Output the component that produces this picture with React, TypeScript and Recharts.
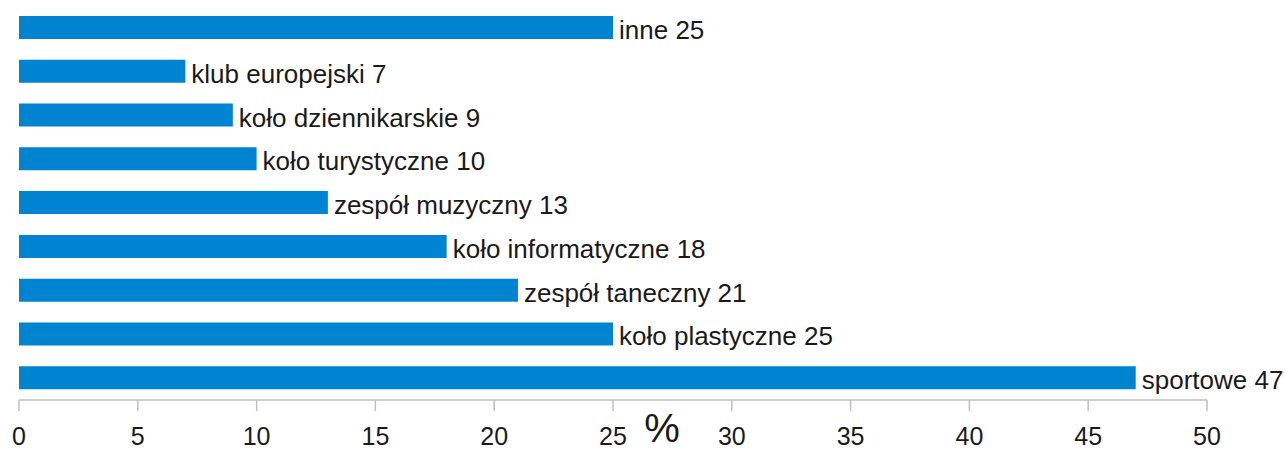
import React from 'react';
import { BarChart, Bar, XAxis, YAxis, LabelList, Label } from 'recharts';

const categories = [
  'inne',
  'klub europejski',
  'koło dziennikarskie',
  'koło turystyczne',
  'zespół muzyczny',
  'koło informatyczne',
  'zespół taneczny',
  'koło plastyczne',
  'sportowe',
];
const values = [25, 7, 9, 10, 13, 18, 21, 25, 47];
const xTicks = [0, 5, 10, 15, 20, 25, 30, 35, 40, 45, 50];

const data = categories.map((name, i) => ({ name, value: values[i] }));

const FONT = '"Liberation Sans", Arial, sans-serif';

const App: React.FC = () => {
  return (
    <div style={{ position: 'absolute', left: 0, top: 0, fontFamily: FONT }}>
      <BarChart
        width={1285}
        height={451}
        data={data}
        layout="vertical"
        margin={{ top: 6, right: 78, bottom: 0, left: 19 }}
        barSize={23}
      >
        <XAxis
          type="number"
          domain={[0, 50]}
          ticks={xTicks}
          interval={0}
          height={51}
          tickSize={11}
          tickMargin={16}
          axisLine={{ stroke: '#bfbfbf', strokeWidth: 1.5 }}
          tickLine={{ stroke: '#bfbfbf', strokeWidth: 1.5 }}
          tick={{ fill: '#1a1a1a', fontSize: 25, fontFamily: FONT }}
        >
          <Label
            value="%"
            position="insideBottom"
            offset={9}
            dx={49}
            fill="#1a1a1a"
            fontSize={40}
            fontFamily={FONT}
          />
        </XAxis>
        <YAxis type="category" dataKey="name" hide />
        <Bar dataKey="value" fill="#0084d1" isAnimationActive={false}>
          <LabelList
            dataKey="value"
            content={(props: any) => {
              const { x, y, width, height, index, value } = props;
              // baseline sits on the bar's bottom edge, as in the original
              return (
                <text
                  x={Number(x) + Number(width) + 6}
                  y={Number(y) + Number(height)}
                  fill="#1a1a1a"
                  fontSize={26}
                  fontFamily={FONT}
                >
                  {`${categories[index]} ${value}`}
                </text>
              );
            }}
          />
        </Bar>
      </BarChart>
    </div>
  );
};

export default App;
